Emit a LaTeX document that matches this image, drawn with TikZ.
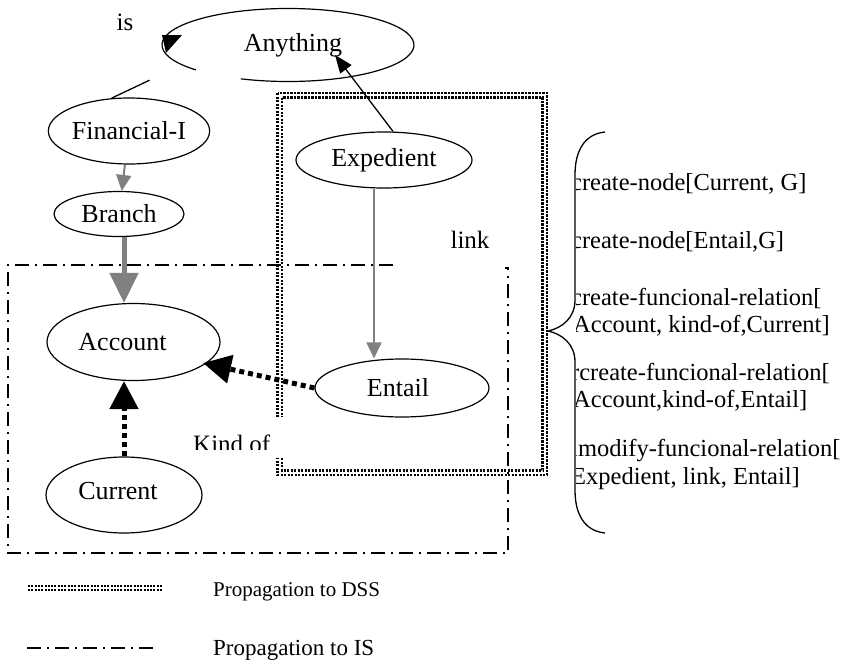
\documentclass[tikz,border=0pt]{standalone}
\usepackage{fontspec}
\setmainfont{Liberation Serif}
\usetikzlibrary{arrows.meta,shapes.geometric}
\definecolor{relgray}{HTML}{808080}
\begin{document}
\begin{tikzpicture}[x=1pt,y=-1pt,
  concept/.style={ellipse, draw, line width=1.2pt, inner sep=0pt,
    font=\fontsize{26}{30}\selectfont},
  plain/.style={inner sep=0pt, font=\fontsize{25}{29}\selectfont},
  cmd/.style={inner sep=0pt, anchor=base west, font=\fontsize{24.5}{28}\selectfont},
  legend/.style={inner sep=0pt, anchor=west},
  isa/.style={draw=relgray, line width=2pt,
    -{Triangle[width=15pt,length=16pt]}, color=relgray},
  isathick/.style={draw=relgray, line width=5pt,
    -{Triangle[width=28pt,length=30pt]}, color=relgray},
  kindof/.style={line width=5pt, dash pattern=on 5pt off 4pt,
    -{Triangle[width=28pt,length=28pt]}},
  linkarrow/.style={line width=1.3pt, -{Triangle[width=14pt,length=18pt]}},
  dssline/.style={line width=2.3pt, dash pattern=on 2.2pt off 1.3pt},
  isline/.style={line width=1.3pt, dash pattern=on 14pt off 6pt on 2pt off 6pt},
]
\useasboundingbox (0,0) rectangle (847,672);

% propagation boundary towards the information system
\draw[isline] (393,265) -- (8,265) -- (8,553) -- (508,553) -- (508,268) -- (505,268);

% propagation boundary towards the DSS (double dotted frame)
\draw[dssline] (277.5,93) rectangle (547,475);
\draw[dssline] (282,97.5) rectangle (542.5,470.5);

% concept nodes
\node[concept, draw=none, minimum width=252pt, minimum height=73pt] (any) at (288,45) {\hspace*{10pt}Anything};
\draw[line width=1.2pt] (any.center) ++(137:126 and 36.5)
  arc[start angle=137, end angle=472, x radius=126, y radius=36.5];
\node[concept, minimum width=152pt, minimum height=66pt] (fin) at (129,131) {Financial-I};
\node[concept, minimum width=130pt, minimum height=45pt] (branch) at (119,214) {Branch};
\node[concept, minimum width=173pt, minimum height=77pt] (account) at (133.5,342) {Account\hspace*{22pt}};
\node[concept, minimum width=156pt, minimum height=76pt] (current) at (124,495) {\raisebox{9pt}{Current\hspace*{12pt}}};
\node[concept, minimum width=176pt, minimum height=56pt] (exped) at (384,160) {Expedient};
\node[concept, minimum width=174pt, minimum height=58pt] (entail) at (402,388) {Entail\hspace*{8pt}};

% "is" relation towards Anything
\node[plain] (islbl) at (125,22) {is};
\coordinate (isstart) at (fin.118);
\draw[line width=1.3pt] (isstart) -- ++(38,-18) coordinate (isend);
\fill (162,35) -- (182,35) -- (166,53) -- cycle;

% hierarchy
\draw[isa] (fin) -- (branch);
\draw[isathick] (branch.south -| 124,0) -- (account.north -| 124,0);
\draw[isa] (exped.south -| 374,0) -- (entail.north -| 374,0);
\draw[linkarrow] (exped.north -| 393,0) -- (335,55);
\draw[kindof] (current.north) -- (account.south -| current.north);
\draw[kindof] (entail.west) -- (203,363);

% relation labels
\fill[white] (185,417) rectangle (286,458);
\begin{scope}
  \clip (185,417) rectangle (286,449);
  \node[plain, anchor=base west] (kindlbl) at (193,452) {Kind of};
\end{scope}
\node[plain] (linklbl) at (470,240) {link};

% brace grouping the update operations
\draw[line width=1.3pt] (605,132) .. controls (585,134) and (575,150) .. (575,175)
  -- (575,300) .. controls (575,318) and (562,328) .. (548,331)
  .. controls (562,334) and (575,344) .. (575,362)
  -- (575,490) .. controls (575,515) and (585,531) .. (605,533);

% update operations
\begin{scope}
  \clip (576,100) rectangle (847,520);
  \node[cmd] (op1) at (571,190) {create-node[Current, G]};
  \node[cmd] (op2) at (571,248) {create-node[Entail,G]};
  \node[cmd] (op3a) at (571,305) {create-funcional-relation[};
  \node[cmd] (op3b) at (573,332) {Account, kind-of,Current]};
  \node[cmd] (op4a) at (571,380) {rcreate-funcional-relation[};
  \node[cmd] (op4b) at (573,407) {Account,kind-of,Entail]};
  \node[cmd] (op5a) at (571,456) {lmodify-funcional-relation[};
  \node[cmd] (op5b) at (571,484) {Expedient, link, Entail]};
\end{scope}

% legend
\coordinate (lg1a) at (28,590);
\coordinate (lg1b) at (163,590);
\draw[line width=2pt, dash pattern=on 2pt off 1.3pt] (lg1a) -- (lg1b);
\draw[line width=2pt, dash pattern=on 2pt off 1.3pt] ([yshift=4pt]lg1a) -- ([yshift=4pt]lg1b);
\node[legend, font=\fontsize{21}{25}\selectfont] (lgdss) at (213,592) {Propagation to DSS};
\coordinate (lg2a) at (27,648);
\coordinate (lg2b) at (158,648);
\draw[isline] (lg2a) -- (lg2b);
\node[legend, font=\fontsize{23}{27}\selectfont] (lgis) at (213,650) {Propagation to IS};
\end{tikzpicture}
\end{document}
